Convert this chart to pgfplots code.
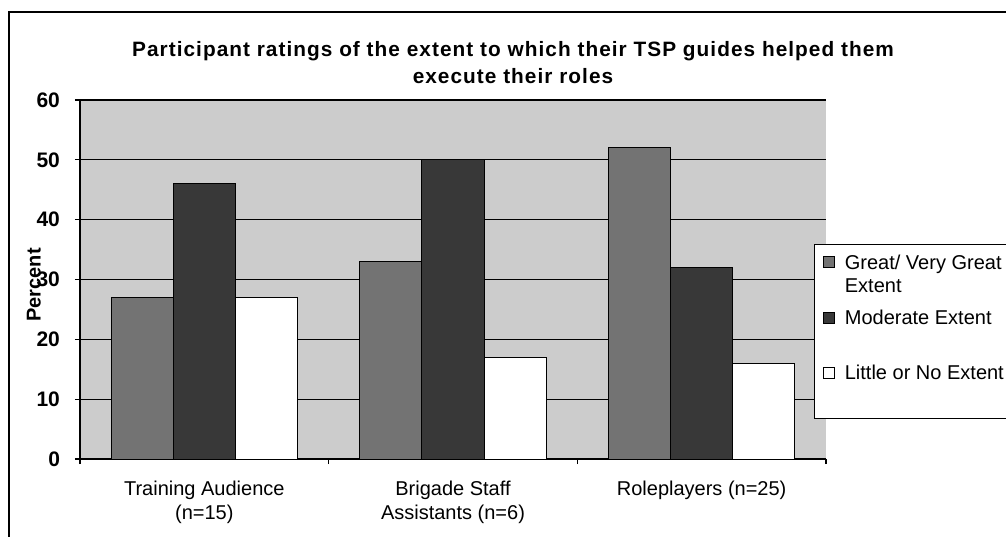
\documentclass[border=0pt]{standalone}
\usepackage{fontspec}
\setmainfont{Liberation Sans}
\newfontfamily\titlefont[LetterSpace=5]{Liberation Sans}
\usepackage{pgfplots}
\usepackage{pgfplotstable}
\pgfplotsset{compat=1.18}

\definecolor{plotbg}{gray}{0.80}
\definecolor{greatc}{gray}{0.45}
\definecolor{modc}{gray}{0.22}

% percent of participants per rating, one row per group
\pgfplotstableread{
idx great moderate little
0   27    46       27
1   33    50       17
2   52    32       16
}\ratings

% small square legend key; #1 raises it (for two-line entries)
\pgfplotsset{
  sq legend/.style={legend image code/.code={
    \draw[##1, line width=0.5pt] (0pt,0.6pt+#1) rectangle (5.6pt,6.2pt+#1);}},
  sq legend/.default=0pt,
}

\begin{document}
\begin{tikzpicture}
\useasboundingbox (0,0) rectangle (503pt,268pt);
\clip (0,0) rectangle (503pt,268pt);
\draw[line width=1pt] (4.5pt,-10pt) rectangle (515pt,262.2pt);
\node[font=\titlefont\bfseries\fontsize{10.4}{13.5}\selectfont, align=center]
  at (256.5pt,236.8pt)
  {Participant ratings of the extent to which their TSP guides helped them\\execute their roles};
\begin{axis}[
  at={(40pt,38.5pt)}, anchor=south west,
  scale only axis, width=373pt, height=179.5pt,
  xmin=-0.5, xmax=2.5, ymin=0, ymax=60,
  axis x line*=bottom, axis y line*=left,
  axis line style={-, line width=0.8pt},
  axis background/.style={fill=plotbg},
  ytick={0,10,...,60},
  xtick={-0.5,0.5,1.5,2.5},
  x tick label as interval,
  xticklabels={{Training Audience\\(n=15)},{Brigade Staff\\Assistants (n=6)},{Roleplayers (n=25)}},
  xticklabel style={align=center, font=\fontsize{10}{12}\selectfont, yshift=-5pt},
  yticklabel style={font=\bfseries\fontsize{10.5}{12}\selectfont, xshift=-4pt},
  /pgf/number format/assume math mode=true,
  tick align=outside, major tick length=2.5pt,
  tick style={black, line width=0.6pt},
  ymajorgrids, grid style={black, line width=0.6pt},
  ylabel={Percent},
  ylabel style={font=\bfseries\fontsize{10}{12}\selectfont, at={(axis description cs:-0.062,0.485)}, anchor=center},
  bar width=0.25,
  legend style={at={(rel axis cs:0.984,0.599)}, anchor=north west,
    draw=black, line width=0.6pt, fill=white,
    font=\fontsize{10}{11.5}\selectfont, cells={align=left, anchor=base west},
    row sep=3.5pt, inner xsep=4pt, inner ysep=3pt},
]
\addplot[ybar, bar shift=-0.25, fill=greatc, draw=black, line width=0.5pt, sq legend=11.5pt]
  table[x=idx, y=great] {\ratings};
\addplot[ybar, bar shift=0, fill=modc, draw=black, line width=0.5pt, sq legend]
  table[x=idx, y=moderate] {\ratings};
\addplot[ybar, bar shift=0.25, fill=white, draw=black, line width=0.5pt, sq legend]
  table[x=idx, y=little] {\ratings};
\addlegendimage{empty legend}
\legend{{\hspace*{3pt}Great/ Very Great\\\hspace*{3pt}Extent},
  {\hspace*{3pt}Moderate Extent},
  {\hspace*{3pt}\rule{0pt}{18.5pt}Little or No Extent\hspace*{8pt}},
  {\rule{0pt}{4pt}}}
\end{axis}
\end{tikzpicture}
\end{document}
